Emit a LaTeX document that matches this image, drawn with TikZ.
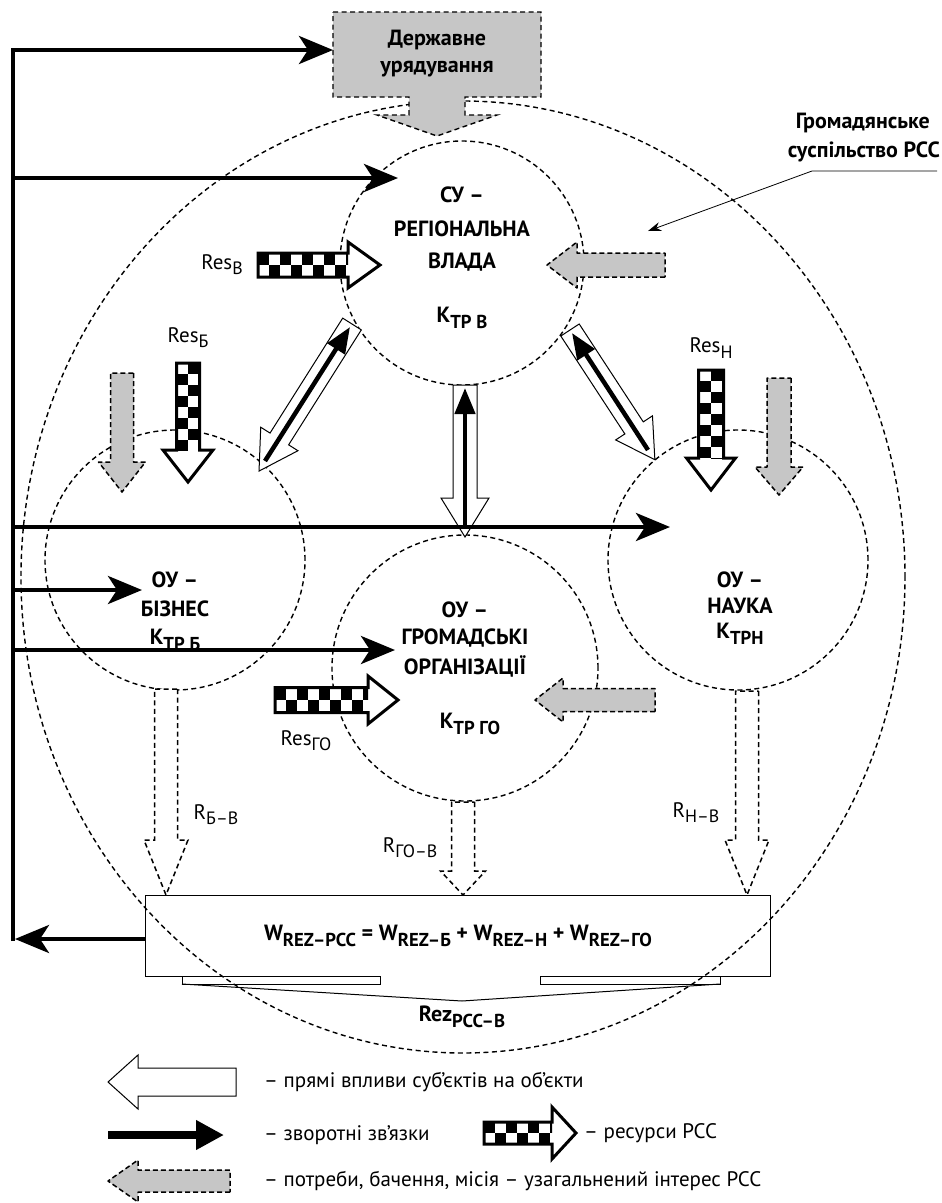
\documentclass[tikz,border=0pt]{standalone}
\usepackage{fontspec}
\setmainfont{PT Sans}
\usepackage{graphicx}
\usetikzlibrary{arrows.meta,shapes.geometric}
\definecolor{needgray}{HTML}{C6C6C6}
\newcommand\sbs[1]{\raisebox{-0.5ex}{\scalebox{0.85}{#1}}}
% generic block arrow: style, x, y, angle, shaft length, head length, half shaft, half head
\newcommand\blockarrow[8]{%
  \draw[#1, shift={(#2,#3)}, rotate=#4] (0,-#7) -- (#5,-#7) -- (#5,-#8) -- ({#5+#6},0) -- (#5,#8) -- (#5,#7) -- (0,#7) -- cycle;}
% checkered resource arrow: x, y, angle, shaft length, head length, half shaft, half head
\newcommand\resarrow[7]{%
  \begin{scope}[shift={(#1,#2)}, rotate=#3]
    \fill[white] (0,-#6) -- (#4,-#6) -- (#4,-#7) -- ({#4+#5},0) -- (#4,#7) -- (#4,#6) -- (0,#6) -- cycle;
    \begin{scope}
      \clip (0,-#6) rectangle (#4,#6);
      \foreach \i in {0,2,...,14} {\fill ({\i*11},-#6) rectangle ({\i*11+11},0);}
      \foreach \i in {1,3,...,15} {\fill ({\i*11},0) rectangle ({\i*11+11},#6);}
    \end{scope}
    \draw[line width=3pt, line join=miter] (0,-#6) -- (#4,-#6) -- (#4,-#7) -- ({#4+#5},0) -- (#4,#7) -- (#4,#6) -- (0,#6) -- cycle;
  \end{scope}}
\begin{document}
\begin{tikzpicture}[x=1pt,y=-1pt,
  lbl/.style={font=\fontsize{22}{25}\selectfont\bfseries, inner sep=0pt},
  txt/.style={font=\fontsize{21}{25}\selectfont, inner sep=0pt},
  dline/.style={draw, dash pattern=on 5pt off 3.5pt, line width=1.4pt},
  fbline/.style={line width=4.2pt, line join=miter, -{Stealth[length=34pt,width=28pt,inset=9pt]}},
  blk/.style={line width=4.5pt, -{Triangle[length=26pt,width=20pt]}},
  hollow/.style={fill=white, draw, line width=1pt, line join=miter},
  need/.style={fill=needgray, draw, dash pattern=on 5pt off 3pt, line width=1.5pt, line join=round},
  rarrow/.style={fill=white, draw, dash pattern=on 5pt off 3.5pt, line width=1.5pt, line join=miter}
]
\useasboundingbox (0,0) rectangle (942,1203);

% outer ellipse: civil society
\node[dline, ellipse, minimum width=884pt, minimum height=952pt, inner sep=0pt] (society) at (463,577) {};

% state government box
\draw[fill=needgray, dline] (333,12) -- (541,12) -- (541,97) -- (465,97) -- (465,115) -- (497,115) -- (437,136) -- (377,115) -- (409,115) -- (409,97) -- (333,97) -- cycle;
\node[lbl] (gov1) at (437,40) {Державне};
\node[lbl] (gov2) at (437,69) {урядування};
\coordinate (govW) at (333,50);

% circles
\node[dline, circle, minimum size=244pt, inner sep=0pt] (su) at (462,263) {};
\node[dline, circle, minimum size=260pt, inner sep=0pt] (biz) at (175,560) {};
\node[dline, circle, minimum size=260pt, inner sep=0pt] (nauka) at (738,560) {};
\node[dline, circle, minimum size=266pt, inner sep=0pt] (go) at (465,668) {};

% circle texts
\node[lbl] (su1) at (462,195) {СУ –};
\node[lbl] (su2) at (462,229) {РЕГІОНАЛЬНА};
\node[lbl] (su3) at (462,262) {ВЛАДА};
\node[lbl] (su4) at (462,318) {К\sbs{ТР В}};
\node[lbl] (b1) at (175,580) {ОУ –};
\node[lbl] (b2) at (175,609) {БІЗНЕС};
\node[lbl] (b3) at (175,640) {К\sbs{ТР Б}};
\node[lbl] (n1) at (740,580) {ОУ –};
\node[lbl] (n2) at (740,606) {НАУКА};
\node[lbl] (n3) at (740,634) {К\sbs{ТРН}};
\node[lbl] (g1) at (465,610) {ОУ –};
\node[lbl] (g2) at (465,638) {ГРОМАДСЬКІ};
\node[lbl] (g3) at (465,666) {ОРГАНІЗАЦІЇ};
\node[lbl] (g4) at (470,724) {К\sbs{ТР ГО}};

% civil society label
\node[lbl, anchor=east] (cs1) at (930,123) {Громадянське};
\node[lbl, anchor=east] (cs2) at (940,152) {суспільство РСС};
\coordinate (csA) at (937,171);
\coordinate (csB) at (812,171);
\coordinate (csTip) at (648,231);
\draw[line width=0.8pt, -{Stealth[length=13pt,width=9pt]}] (csA) -- (csB) -- (csTip);

% feedback lines
\coordinate (fbTop) at (13,50);
\coordinate (fbBot) at (13,941);
\draw[fbline] (fbBot) -- (fbTop) -- (govW);
\coordinate (fb1) at (13,178);  \coordinate (fb1t) at (398,178);
\coordinate (fb2) at (13,527);  \coordinate (fb2t) at (670,527);
\coordinate (fb3) at (13,590);  \coordinate (fb3t) at (142,590);
\coordinate (fb4) at (13,650);  \coordinate (fb4t) at (395,650);
\draw[fbline] (fb1) -- (fb1t);
\draw[fbline] (fb3) -- (fb3t);
\draw[fbline] (fb4) -- (fb4t);

% direct influences (hollow) with black feedback arrows inside
\blockarrow{hollow}{465}{385}{-90}{113}{39}{12}{24}
\blockarrow{hollow}{352}{324}{-122.3}{136}{38}{11}{22}
\blockarrow{hollow}{570}{330}{-56.8}{117}{38}{11}{22}
\coordinate (bv1) at (465,525); \coordinate (bv2) at (465,388);
\coordinate (bl1) at (265,461); \coordinate (bl2) at (350,327);
\coordinate (br1) at (648,450); \coordinate (br2) at (572,333);
\draw[blk] (bv1) -- (bv2);
\draw[blk] (bl1) -- (bl2);
\draw[blk] (br1) -- (br2);
\draw[fbline] (fb2) -- (fb2t);

% resources (checkered)
\resarrow{258}{265}{0}{90}{32}{12}{23}
\resarrow{188}{363}{-90}{87}{32}{11.5}{25}
\resarrow{711}{370}{-90}{88}{32}{12.5}{24.5}
\resarrow{275}{700}{0}{93}{30}{12.5}{24}
\node[txt] (resB) at (222,265) {Res\sbs{В}};
\node[txt] (resBiz) at (188,338) {Res\sbs{Б}};
\node[txt] (resN) at (711,348) {Res\sbs{Н}};
\node[txt] (resGO) at (306,741) {Res\sbs{ГО}};

% needs (grey dashed)
\blockarrow{need}{665}{265}{180}{88}{30}{12}{23}
\blockarrow{need}{122}{373}{-90}{89}{30}{11.5}{23.5}
\blockarrow{need}{779}{378}{-90}{89}{28}{12}{24}
\blockarrow{need}{655}{700}{180}{92}{28}{11.5}{22}

% results (dashed hollow)
\blockarrow{rarrow}{166}{689}{-90}{151}{55}{11.5}{22}
\blockarrow{rarrow}{463}{802}{-90}{69}{24}{11.5}{22.5}
\blockarrow{rarrow}{747}{691}{-90}{149}{55}{11.5}{22}
\node[txt] (rb) at (216,815) {R\sbs{Б–В}};
\node[txt] (rgo) at (410,848) {R\sbs{ГО–В}};
\node[txt] (rn) at (696,813) {R\sbs{Н–В}};

% result box
\draw[line width=1pt] (380,976) -- (145,976) -- (145,895) -- (770,895) -- (770,976) -- (540,976);
\draw[line width=1pt, line join=miter] (380,976) -- (380,984) -- (182,984) -- (182,976);
\draw[line width=1pt, line join=miter] (540,976) -- (540,984) -- (720,984) -- (720,976);
\coordinate (rezTip) at (462,1001);
\draw[line width=1pt] (182,984) -- (rezTip) -- (720,984);
\node[lbl] (formula) at (458,936) {W\sbs{REZ–РСС} = W\sbs{REZ–Б} + W\sbs{REZ–Н} + W\sbs{REZ–ГО}};
\node[lbl] (rez) at (462,1017) {Rez\sbs{РСС–В}};
\coordinate (wboxW) at (145,939);
\coordinate (fbBotTip) at (15,939);
\draw[fbline] (wboxW) -- (fbBotTip);

% legend
\blockarrow{hollow}{236}{1082}{180}{98}{30}{14}{27}
\node[txt, anchor=west] (leg1) at (264,1082) {– прямі впливи суб’єктів на об’єкти};
\coordinate (lg2a) at (108,1135); \coordinate (lg2b) at (224,1135);
\draw[line width=8pt, -{Stealth[length=28pt,width=28pt,inset=0pt]}] (lg2a) -- (lg2b);
\node[txt, anchor=west] (leg2) at (264,1135) {– зворотні зв’язки};
\resarrow{484}{1133}{0}{68}{24}{11}{26}
\node[txt, anchor=west] (leg3) at (584,1133) {– ресурси РСС};
\blockarrow{need}{230}{1181}{180}{92}{30}{11}{21}
\node[txt, anchor=west] (leg4) at (264,1181) {– потреби, бачення, місія – узагальнений інтерес РСС};
\end{tikzpicture}
\end{document}
